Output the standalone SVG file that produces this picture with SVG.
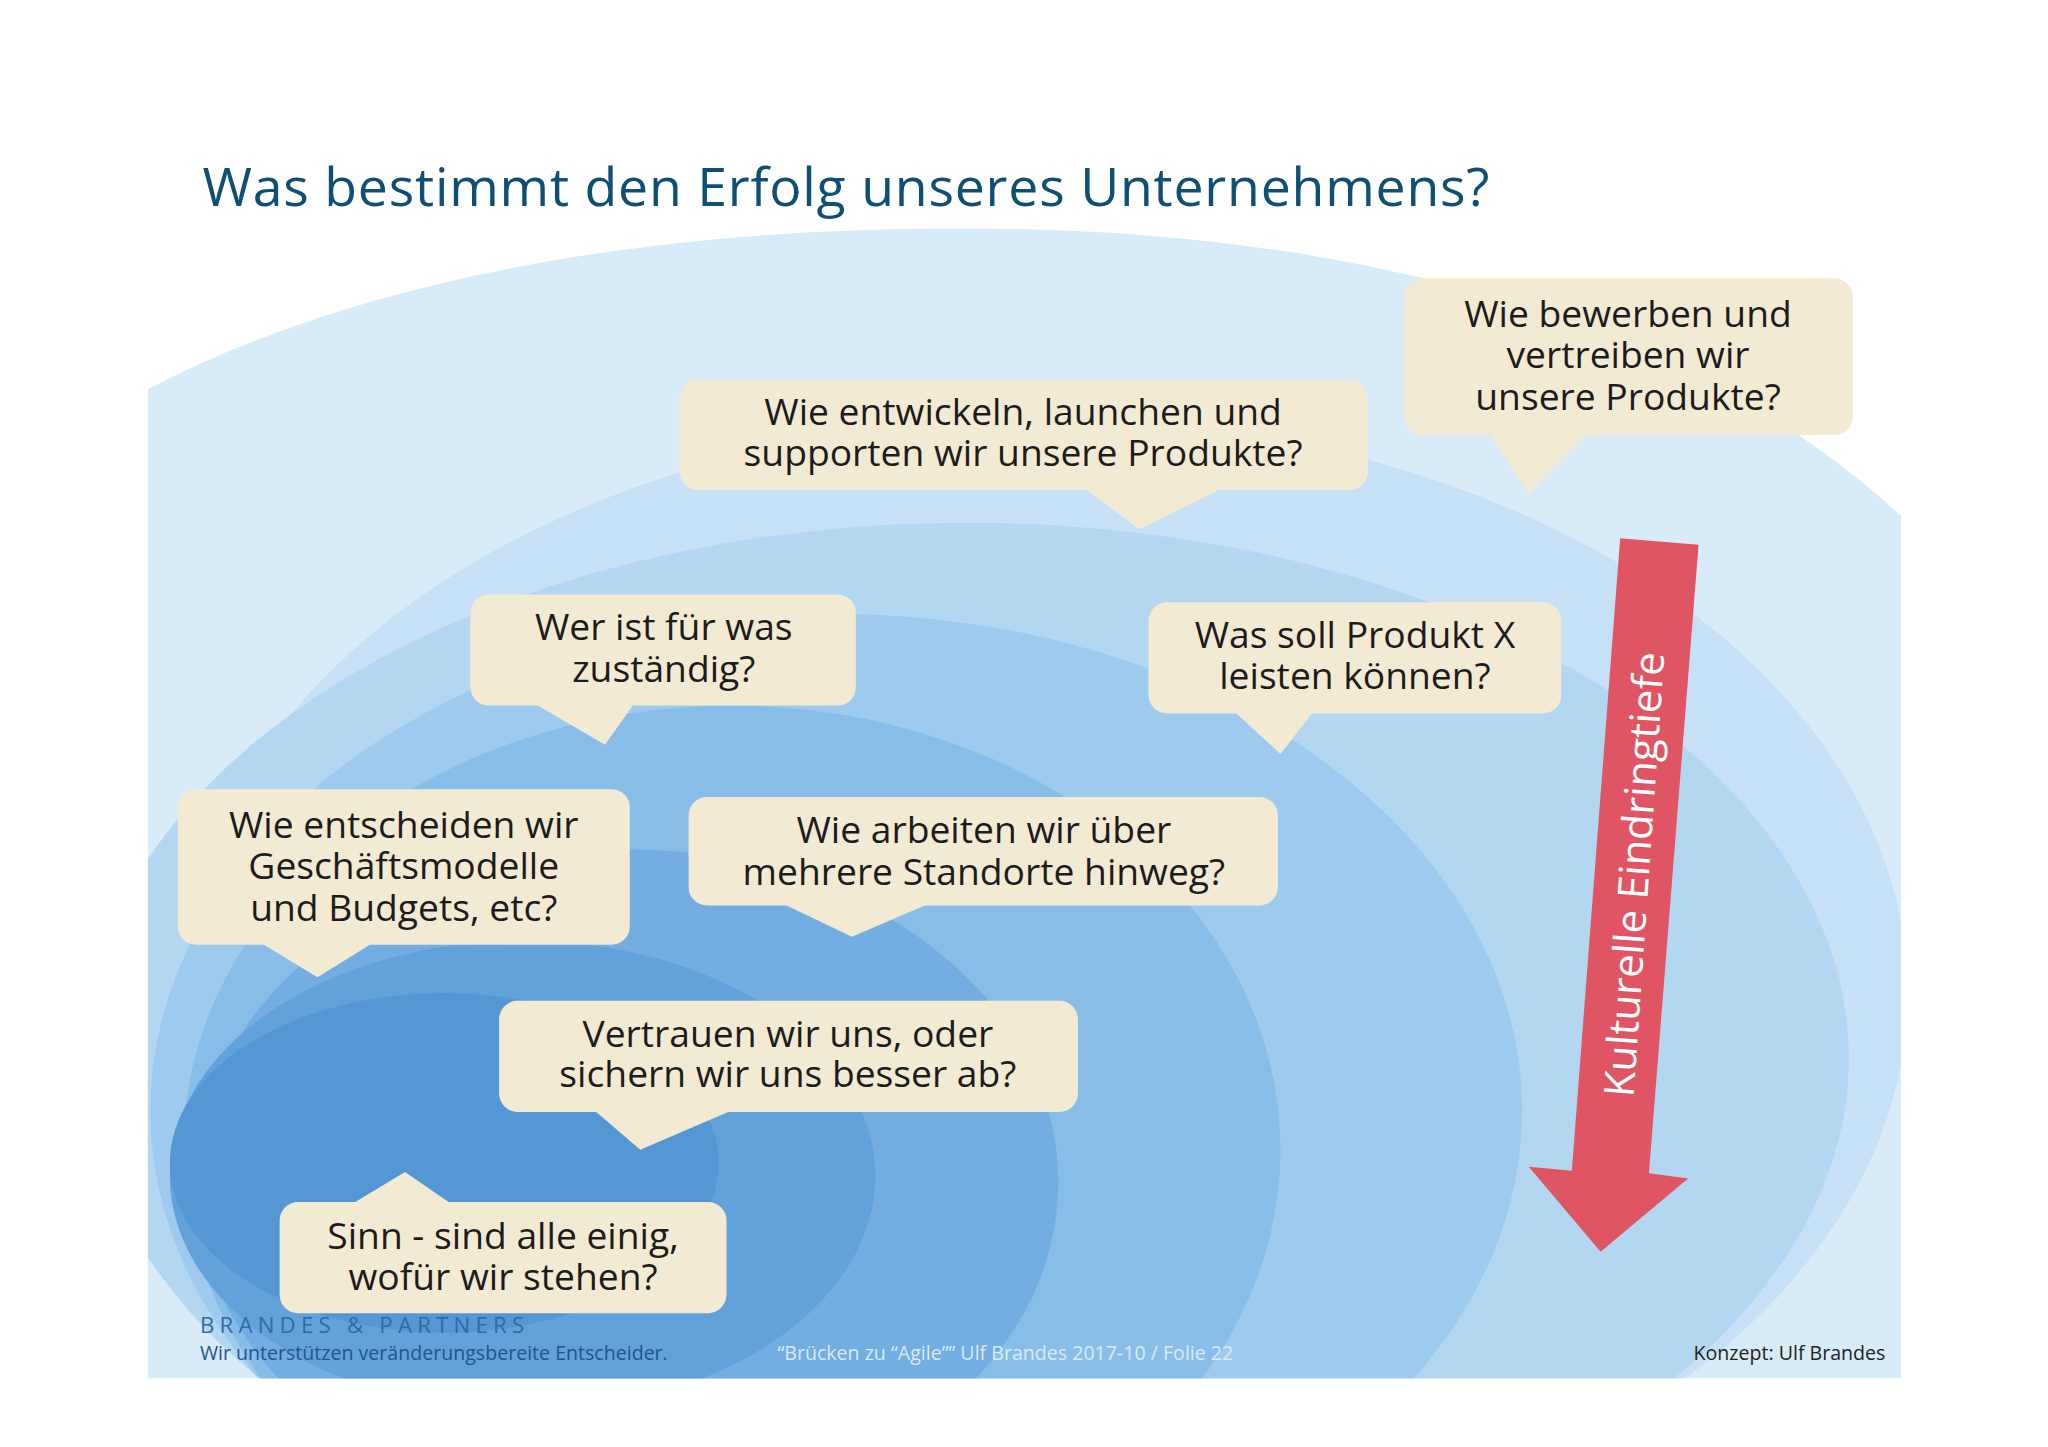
<svg xmlns="http://www.w3.org/2000/svg" width="2048" height="1447" viewBox="0 0 2048 1447">
<defs>
<clipPath id="bg"><path d="M113,298 C300,200 550,172 760,175 C1050,178 1300,250 1455,395 L1455,1055 L113,1055 Z"/></clipPath>
<style>
.b{fill:#f3ead3}
.t{font-family:"Open Sans","Noto Sans",sans-serif;font-size:28.5px;fill:#1c1c1c;text-anchor:middle}
</style>
</defs>
<rect width="2048" height="1447" fill="#fff"/>
<g transform="scale(1.3066)">
<g id="background" clip-path="url(#bg)">
<rect x="100" y="160" width="1400" height="900" fill="#d8ebf8"/>
<ellipse cx="800" cy="760" rx="660" ry="440" fill="#c6e1f5"/>
<ellipse cx="740" cy="810" rx="675" ry="410" fill="#b3d6f1"/>
<ellipse cx="640" cy="850" rx="525" ry="380" fill="#9ecaed"/>
<ellipse cx="560" cy="880" rx="420" ry="340" fill="#88bde8"/>
<ellipse cx="480" cy="905" rx="330" ry="255" fill="#73ade1"/>
<ellipse cx="400" cy="900" rx="270" ry="180" fill="#63a1db"/>
<ellipse cx="340" cy="890" rx="210" ry="130" fill="#5597d4"/>
</g>
<text x="155" y="158" font-family="Open Sans,Noto Sans,sans-serif" font-size="41" letter-spacing="0.6" fill="#0e4f73">Was bestimmt den Erfolg unseres Unternehmens?</text>
<g id="arrow">
<path d="M1240,412 L1300,417 L1262,898 L1292,902 L1225,958 L1170,893 L1203,896 Z" fill="#e05563"/>
<text transform="translate(1262,670) rotate(-86)" font-family="Open Sans,Noto Sans,sans-serif" font-size="32" fill="#fff" text-anchor="middle">Kulturelle Eindringtiefe</text>
</g>
<g id="n1"><rect class="b" x="1075" y="213" width="343" height="120" rx="14"/><path class="b" d="M1140,332 L1215,332 L1170,378 Z"/>
<text class="t" x="1246" y="250">Wie bewerben und</text><text class="t" x="1246" y="282">vertreiben wir</text><text class="t" x="1246" y="314">unsere Produkte?</text></g>
<g id="n2"><rect class="b" x="520" y="291" width="527" height="84" rx="14"/><path class="b" d="M830,374 L935,374 L872,405 Z"/>
<text class="t" x="783" y="325">Wie entwickeln, launchen und</text><text class="t" x="783" y="357">supporten wir unsere Produkte?</text></g>
<g id="n3"><rect class="b" x="360" y="455" width="295" height="85" rx="14"/><path class="b" d="M410,539 L485,539 L463,570 Z"/>
<text class="t" x="508" y="490">Wer ist für was</text><text class="t" x="508" y="522">zuständig?</text></g>
<g id="n4"><rect class="b" x="879" y="461" width="316" height="85" rx="14"/><path class="b" d="M945,545 L1005,545 L980,577 Z"/>
<text class="t" x="1037" y="496">Was soll Produkt X</text><text class="t" x="1037" y="527">leisten können?</text></g>
<g id="n5"><rect class="b" x="136" y="604" width="346" height="119" rx="14"/><path class="b" d="M200,722 L285,722 L243,748 Z"/>
<text class="t" x="309" y="641">Wie entscheiden wir</text><text class="t" x="309" y="673">Geschäftsmodelle</text><text class="t" x="309" y="705">und Budgets, etc?</text></g>
<g id="n6"><rect class="b" x="527" y="610" width="451" height="83" rx="14"/><path class="b" d="M600,692 L710,692 L652,717 Z"/>
<text class="t" x="753" y="645">Wie arbeiten wir über</text><text class="t" x="753" y="677">mehrere Standorte hinweg?</text></g>
<g id="n7"><rect class="b" x="382" y="766" width="443" height="85" rx="14"/><path class="b" d="M455,850 L560,850 L490,880 Z"/>
<text class="t" x="603" y="801">Vertrauen wir uns, oder</text><text class="t" x="603" y="832">sichern wir uns besser ab?</text></g>
<g id="n8"><rect class="b" x="214" y="920" width="342" height="85" rx="14"/><path class="b" d="M270,921 L345,921 L310,897 Z"/>
<text class="t" x="385" y="956">Sinn - sind alle einig,</text><text class="t" x="385" y="987">wofür wir stehen?</text></g>
<g id="connectors"/>
<g id="footer" font-family="Open Sans,Noto Sans,sans-serif">
<text x="153" y="1020" font-size="17" letter-spacing="4" fill="#2f6aa6">BRANDES &amp; PARTNERS</text>
<text x="153" y="1041" font-size="15" fill="#24548a">Wir unterstützen veränderungsbereite Entscheider.</text>
<text x="595" y="1041" font-size="15" fill="#d8ecfa">“Brücken zu “Agile”” Ulf Brandes 2017-10 / Folie 22</text>
<text x="1443" y="1041" font-size="15" fill="#222" text-anchor="end">Konzept: Ulf Brandes</text>
</g>
</g>
</svg>
